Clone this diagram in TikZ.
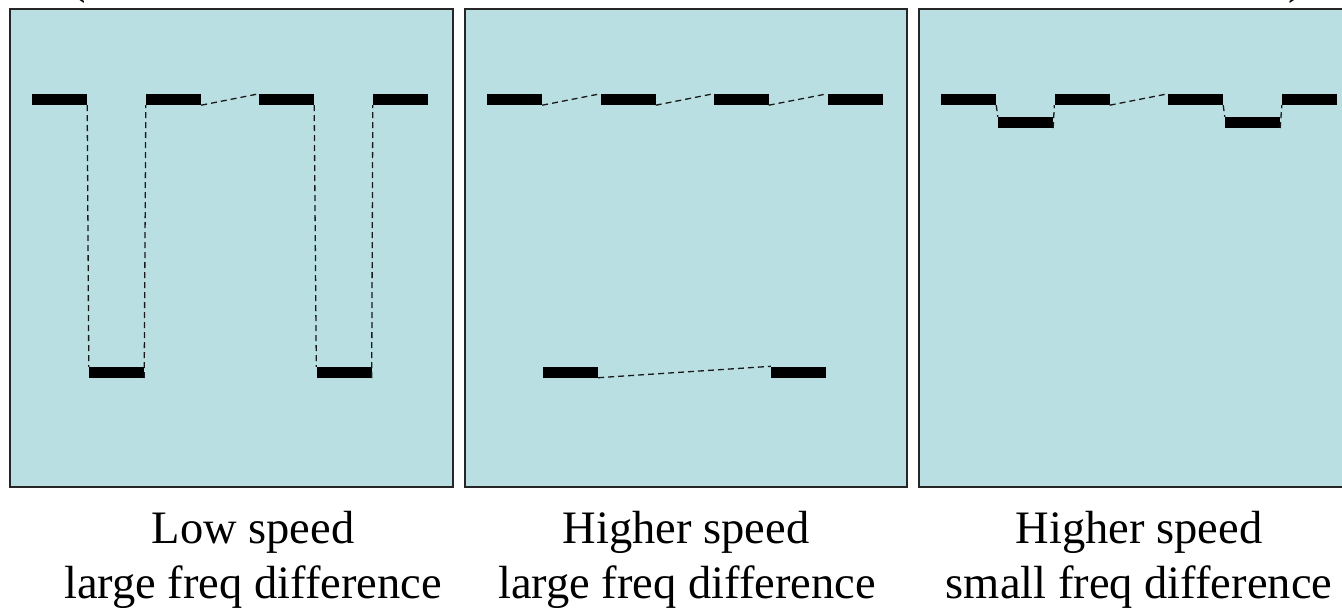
\documentclass[tikz,border=0pt]{standalone}
\usepackage{fontspec}
\setmainfont{Liberation Serif}
\definecolor{panelblue}{RGB}{186,223,227}
\begin{document}
\begin{tikzpicture}[x=1pt,y=-1pt,
 panel/.style={draw=black!85, line width=1.6pt, fill=panelblue},
 bar/.style={fill=black, inner sep=0pt, minimum width=55pt, minimum height=11pt, draw=none},
 link/.style={dash pattern=on 6pt off 4pt, line width=1.3pt, draw=black!90},
 captext/.style={font=\fontsize{46.5}{50}\selectfont, anchor=base, inner sep=0pt}]
\useasboundingbox (0,0) rectangle (1342,608);
% panels
\path[panel] (10,9) rectangle (453,487);
\path[panel] (465,9) rectangle (907,487);
\path[panel] (919,9) rectangle (1360,487);
% parentheses of a title above, cut by the top edge
\node[captext, anchor=south] (lp) at (78,4) {(};
\node[captext, anchor=south] (rp) at (1296,4) {)};
% panel 1
\node[bar] (a1) at (59.5,99.5) {};
\node[bar] (a2) at (173.5,99.5) {};
\node[bar] (a3) at (286.5,99.5) {};
\node[bar] (a4) at (400.5,99.5) {};
\node[bar] (b1) at (116.5,372.5) {};
\node[bar] (b2) at (344,372.5) {};
\draw[link] (a1.south east) -- (b1.north west);
\draw[link] (b1.south east) -- (a2.south west);
\draw[link] (a2.south east) -- (a3.north west);
\draw[link] (a3.south east) -- (b2.north west);
\draw[link] (b2.south east) -- (a4.south west);
% panel 2
\node[bar] (c1) at (514.5,99.5) {};
\node[bar] (c2) at (628,99.5) {};
\node[bar] (c3) at (741,99.5) {};
\node[bar] (c4) at (855,99.5) {};
\node[bar] (d1) at (570.5,372) {};
\node[bar] (d2) at (798.5,372) {};
\draw[link] (c1.south east) -- (c2.north west);
\draw[link] (c2.south east) -- (c3.north west);
\draw[link] (c3.south east) -- (c4.north west);
\draw[link] (d1.south east) -- (d2.north west);
% panel 3
\node[bar] (e1) at (968.5,99.5) {};
\node[bar] (e2) at (1082,99.5) {};
\node[bar] (e3) at (1195.5,99.5) {};
\node[bar] (e4) at (1309.5,99.5) {};
\node[bar] (f1) at (1025.5,122.5) {};
\node[bar] (f2) at (1252.5,122.5) {};
\draw[link] (e1.south east) -- (f1.north west);
\draw[link] (f1.south east) -- (e2.south west);
\draw[link] (e2.south east) -- (e3.north west);
\draw[link] (e3.south east) -- (f2.north west);
\draw[link] (f2.south east) -- (e4.south west);
% captions
\node[captext] (t1a) at (253,543) {Low speed};
\node[captext] (t1b) at (253,598) {large freq difference};
\node[captext] (t2a) at (686,543) {Higher speed};
\node[captext] (t2b) at (687,598) {large freq difference};
\node[captext] (t3a) at (1139,543) {Higher speed};
\node[captext] (t3b) at (1139,598) {small freq difference};
\end{tikzpicture}
\end{document}
